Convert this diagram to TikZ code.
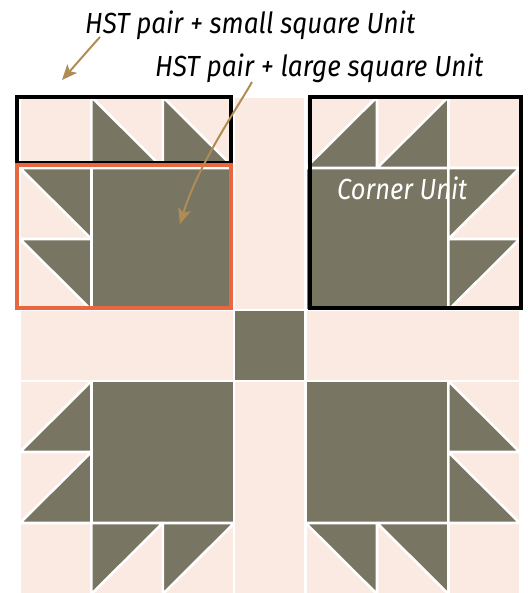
\documentclass[tikz,border=0pt]{standalone}
\usepackage{fontspec}
\setmainfont{Fira Sans}
\usepackage{graphicx}
\usetikzlibrary{arrows.meta}
\definecolor{qpink}{HTML}{FBEAE2}
\definecolor{qdark}{HTML}{787563}
\definecolor{qred}{HTML}{EA6640}
\definecolor{qtan}{HTML}{B08C55}
\begin{document}
\begin{tikzpicture}[x=0.03cm,y=-0.03cm,
  pinkcell/.style={fill=qpink,draw=white,line width=2.2pt,line join=bevel},
  darkcell/.style={fill=qdark,draw=white,line width=2.2pt,line join=bevel},
  unitbox/.style={draw=black,line width=2.6pt},
  redbox/.style={draw=qred,line width=2.6pt},
  arrowline/.style={draw=qtan,line width=1.7pt,-{Stealth[length=13pt,width=11pt,inset=3pt]}},
  label/.style={anchor=base west,inner sep=0pt,font=\itshape}]
\useasboundingbox (0,0) rectangle (527,593);
\begin{scope}[shift={(20,97)},xscale=71.4,yscale=71]
  % background pink
  \fill[qpink] (0,0) rectangle (7,7);
  % sashing
  \draw[pinkcell] (3,0) rectangle (4,3);
  \draw[pinkcell] (3,4) rectangle (4,7);
  \draw[pinkcell] (0,3) rectangle (3,4);
  \draw[pinkcell] (4,3) rectangle (7,4);
  \draw[darkcell] (3,3) rectangle (4,4);
  % plain pink corner squares and HST backgrounds
  \foreach \c/\r in {0/0,1/0,2/0,0/1,0/2, 4/0,5/0,6/0,6/1,6/2, 0/4,0/5,0/6,1/6,2/6, 6/4,6/5,6/6,4/6,5/6}
    \draw[pinkcell] (\c,\r) rectangle ++(1,1);
  % large squares
  \draw[darkcell] (1,1) rectangle (3,3);
  \draw[darkcell] (4,1) rectangle (6,3);
  \draw[darkcell] (1,4) rectangle (3,6);
  \draw[darkcell] (4,4) rectangle (6,6);
  % top-left unit triangles
  \foreach \c in {1,2} \draw[darkcell] (\c,0) -- (\c,1) -- (\c+1,1) -- cycle;
  \foreach \r in {1,2} \draw[darkcell] (0,\r) -- (1,\r) -- (1,\r+1) -- cycle;
  % top-right unit triangles
  \foreach \c in {4,5} \draw[darkcell] (\c,1) -- (\c+1,1) -- (\c+1,0) -- cycle;
  \foreach \r in {1,2} \draw[darkcell] (6,\r) -- (7,\r) -- (6,\r+1) -- cycle;
  % bottom-left unit triangles
  \foreach \r in {4,5} \draw[darkcell] (1,\r) -- (1,\r+1) -- (0,\r+1) -- cycle;
  \foreach \c in {1,2} \draw[darkcell] (\c,6) -- (\c+1,6) -- (\c,7) -- cycle;
  % bottom-right unit triangles
  \foreach \r in {4,5} \draw[darkcell] (6,\r) -- (6,\r+1) -- (7,\r+1) -- cycle;
  \foreach \c in {4,5} \draw[darkcell] (\c,6) -- (\c+1,6) -- (\c+1,7) -- cycle;
\end{scope}
% unit outlines
\draw[unitbox] (17,97) rectangle (231,163);
\draw[redbox] (17,165) rectangle (231,308);
\draw[unitbox] (310,97) rectangle (521,308);
% labels
\node[label] (lab1) at (85,34) {\resizebox{9.9cm}{0.68cm}{HST pair + small square Unit}};
\node[label] (lab2) at (155,77) {\resizebox{9.84cm}{0.68cm}{HST pair + large square Unit}};
\node[label,text=white] (lab3) at (337,199) {\resizebox{3.9cm}{0.68cm}{Corner Unit}};
% arrows
\coordinate (a1s) at (100,37);
\coordinate (a1e) at (62,80);
\coordinate (a2s) at (252,82);
\coordinate (a2e) at (180,224);
\draw[arrowline] (a1s) .. controls (90,48) and (78,62) .. (a1e);
\draw[arrowline] (a2s) .. controls (236,110) and (198,165) .. (a2e);
\end{tikzpicture}
\end{document}
